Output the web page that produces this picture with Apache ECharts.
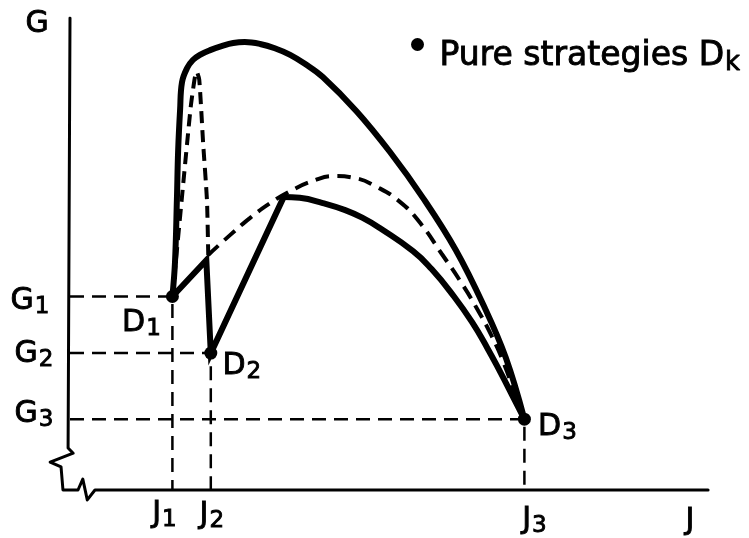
<!DOCTYPE html>
<html>
<head>
<meta charset="utf-8">
<script src="https://cdn.jsdelivr.net/npm/echarts@6/dist/echarts.min.js"></script>
<style>
  html, body { margin: 0; padding: 0; background: #fff; }
  #chart { width: 749px; height: 538px; }
</style>
</head>
<body>
<div id="chart"></div>
<script>
// Pure strategies D_k: their payoff J (horizontal) and G (vertical)
const strategyNames = ['1', '2', '3'];
const strategyJ = [16, 22, 71];
const strategyG = [41, 29, 15];

// Upper envelope of the mixed strategies (solid), D1 -> D3
const outerCurve = [
  [16.4, 48.1], [16.7, 61.4], [16.9, 72.0], [17.2, 80.5], [17.5, 86.4], [18.3, 89.4],
  [19.2, 91.1], [20.3, 92.2], [21.9, 93.2], [23.8, 94.1], [25.5, 94.7], [27.3, 94.9],
  [29.7, 94.5], [32.0, 93.6], [34.4, 92.2], [36.7, 90.3], [39.5, 87.5],
  [44.8, 80.2], [50.0, 71.6], [55.2, 61.8], [60.3, 50.8], [64.8, 38.6], [68.1, 28.0]
];

// Lower solid boundary: D1 -> corner -> D2 -> peak, then arc to D3
const innerCorner = [21.3, 48.7];
const innerPeak = [33.4, 62.1];
const innerArc = [
  [35.9, 61.9], [39.5, 60.8], [43.0, 59.3], [45.8, 57.6], [48.4, 55.5], [53.6, 50.6],
  [56.5, 46.8], [60.0, 41.0], [62.8, 35.6], [65.2, 30.1], [67.3, 24.8], [69.2, 19.8]
];

// Dashed boundary: narrow spike from D1, then wide arc to D3
const dashedSpike = [
  [16.7, 50.8], [17.7, 65.0], [18.3, 73.5], [18.9, 81.6], [19.5, 87.3], [19.8, 88.6],
  [20.2, 86.9], [20.8, 73.5], [21.4, 61.4], [21.6, 49.8]
];
const dashedArc = [
  [25.0, 54.0], [28.1, 57.6], [31.3, 60.8], [34.4, 63.3], [38.0, 65.5], [41.4, 66.5],
  [44.5, 66.1], [47.7, 64.4], [51.6, 61.0], [54.7, 56.6], [58.1, 50.0], [61.1, 44.0],
  [63.6, 38.4], [65.9, 32.6], [67.8, 26.8], [69.6, 20.0]
];

// Axis frame with broken origin
const axisFrame = [
  [0, 100], [-0.3, 8.9], [0.5, 7.8], [-3.1, 5.9], [-1.4, 4.9], [-1.1, 0],
  [1.25, 0], [2.0, 2.3], [2.7, -2.1], [3.9, 0], [99.7, 0]
];
const axisNames = { y: 'G', x: 'J' };

const FONT = 'DejaVu Sans';
const ink = '#000';

const points = strategyJ.map((j, i) => [j, strategyG[i]]);
const D1 = points[0], D2 = points[1], D3 = points[2];

// medium-weight lettering: regular face with a thin outline
const letter = (size, extra) => Object.assign({
  fontFamily: FONT, fontSize: size, color: ink,
  textBorderColor: ink, textBorderWidth: 0.9
}, extra || {});

const rich = {
  m: letter(30),
  s: letter(23, { padding: [12, 0, 0, 1] })
};
const sym = (main, sub) => sub ? `{m|${main}}{s|${sub}}` : `{m|${main}}`;
const labelBase = {
  show: true, position: 'inside', color: ink, opacity: 1,
  textBorderColor: ink, textBorderWidth: 0.9, textShadowBlur: 0, rich
};

// label placement (pixels)
const gOffsets = [[-40, 5], [-36, 1], [-36, -5]];
const jOffsets = [[-8, 24], [1, 25], [10, 30]];
const dOffsets = [[-31, 27], [31, 13], [33, 8]];

const labelItems = [
  { value: [0, 100], label: { formatter: sym(axisNames.y), offset: [-33, 6] } },
  { value: [100, 0], label: { formatter: sym(axisNames.x), offset: [-20, 31] } }
];
strategyG.forEach((g, i) => labelItems.push({
  value: [0, g], label: { formatter: sym('G', strategyNames[i]), offset: gOffsets[i] }
}));
strategyJ.forEach((j, i) => labelItems.push({
  value: [j, 0], label: { formatter: sym('J', strategyNames[i]), offset: jOffsets[i] }
}));

const solid = (w) => ({ color: ink, width: w, cap: 'round', join: 'round' });
const dashed = (w, pattern) => ({ color: ink, width: w, type: pattern, cap: 'butt' });

const guideSeries = points.map((p) => ({
  type: 'line', silent: true, symbol: 'none', z: 1,
  data: [[0, p[1]], p, [p[0], 0]],
  lineStyle: dashed(2.5, [14, 8])
}));

const chart = echarts.init(document.getElementById('chart'), null, { renderer: 'canvas' });
chart.setOption({
  animation: false,
  backgroundColor: '#fff',
  grid: { left: 38, right: 39, top: 18, bottom: 24.4 },
  xAxis: { type: 'value', min: -5, max: 100, show: false },
  yAxis: { type: 'value', min: -5, max: 100, show: false },
  legend: {
    data: ['Pure strategies'],
    left: 411, top: 38, padding: 0,
    icon: 'circle', itemWidth: 26, itemHeight: 13,
    formatter: () => '{m|Pure strategies D}{k|k}',
    textStyle: {
      padding: [23, 0, 0, 4],
      textBorderColor: ink, textBorderWidth: 0.9,
      rich: {
        m: letter(33),
        k: letter(26, { padding: [14, 0, 0, 1] })
      }
    }
  },
  series: [
    ...guideSeries,
    {
      type: 'line', silent: true, symbol: 'none', z: 2,
      data: axisFrame, lineStyle: solid(3)
    },
    {
      type: 'line', silent: true, symbol: 'none', z: 3, smooth: 0.2,
      data: [D1, ...dashedSpike], lineStyle: dashed(4, [12, 7])
    },
    {
      type: 'line', silent: true, symbol: 'none', z: 3, smooth: 0.5,
      data: [dashedSpike[dashedSpike.length - 1], ...dashedArc, D3], lineStyle: dashed(4, [14, 8])
    },
    {
      type: 'line', silent: true, symbol: 'none', z: 4, smooth: 0.4,
      data: [D1, ...outerCurve, D3], lineStyle: solid(6)
    },
    {
      type: 'line', silent: true, symbol: 'none', z: 4,
      data: [D1, innerCorner, D2, innerPeak], lineStyle: Object.assign(solid(6), { join: 'miter' })
    },
    {
      type: 'line', silent: true, symbol: 'none', z: 4, smooth: 0.5,
      data: [innerPeak, ...innerArc, D3], lineStyle: solid(6)
    },
    {
      name: 'Pure strategies',
      type: 'scatter', z: 6, symbol: 'circle', symbolSize: 13,
      itemStyle: { color: ink, opacity: 1 },
      data: points.map((p, i) => ({
        value: p,
        label: { formatter: sym('D', strategyNames[i]), offset: dOffsets[i] }
      })),
      label: labelBase
    },
    {
      type: 'scatter', silent: true, z: 7, symbolSize: 1,
      itemStyle: { color: 'rgba(0,0,0,0)', opacity: 1 },
      data: labelItems,
      label: labelBase
    }
  ]
});
</script>
</body>
</html>
